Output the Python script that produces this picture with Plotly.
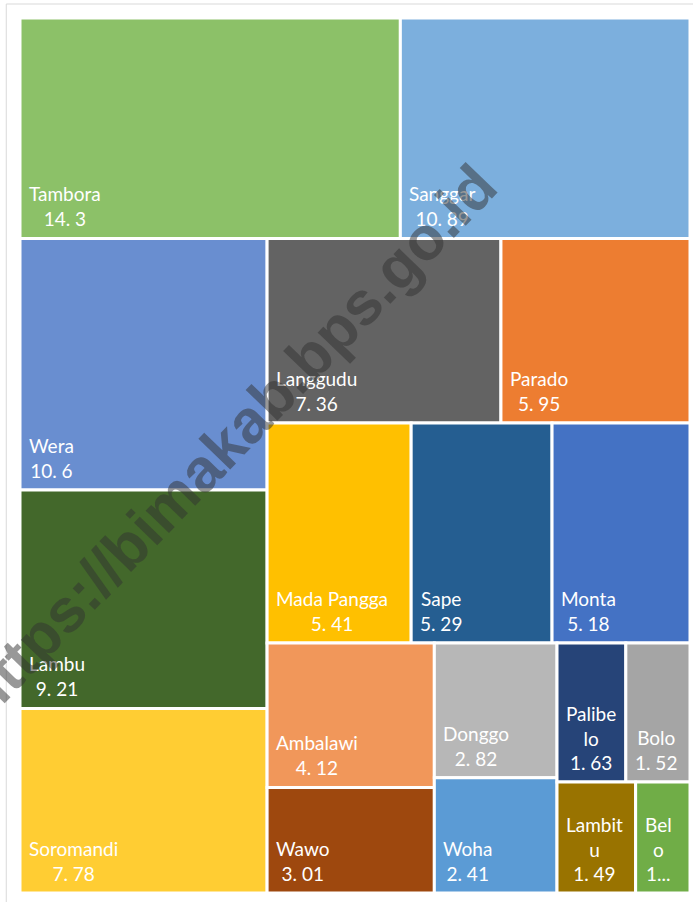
import plotly.graph_objects as go

# Share of area per district (%), largest first
districts = [
    "Tambora", "Sanggar", "Wera", "Lambu", "Soromandi", "Langgudu", "Parado",
    "Mada Pangga", "Sape", "Monta", "Ambalawi", "Wawo", "Donggo", "Woha",
    "Palibelo", "Bolo", "Lambitu", "Belo",
]
shares = [
    14.3, 10.89, 10.6, 9.21, 7.78, 7.36, 5.95,
    5.41, 5.29, 5.18, 4.12, 3.01, 2.82, 2.41,
    1.63, 1.52, 1.49, 1.03,
]
colors = [
    "#8CC168", "#7CAFDD", "#698ED0", "#43682B", "#FFCD33", "#636363", "#ED7D31",
    "#FFC000", "#255E91", "#4472C4", "#F1975A", "#9E480E", "#B7B7B7", "#5B9BD5",
    "#264478", "#A5A5A5", "#997300", "#70AD47",
]
# how many tiles go into each successive strip of the treemap
strip_sizes = [2, 3, 2, 3, 2, 2, 2, 1, 1]

# names that wrap inside narrow tiles
wrapped_names = {"Palibelo": "Palibe<br>lo", "Lambitu": "Lambit<br>u", "Belo": "Bel<br>o"}
truncated_values = {"Belo": "1..."}

BOX_W, BOX_H = 670.0, 875.0


def strip_layout(values, sizes, w, h):
    """Lay tiles out in strips along the shorter side of the free area."""
    x0, y0, x1, y1 = 0.0, 0.0, w, h
    left = sum(values)
    rects = []
    i = 0
    for n in sizes:
        grp = values[i:i + n]
        s = sum(grp)
        frac = s / left
        bw, bh = x1 - x0, y1 - y0
        if bw <= bh:
            th = bh * frac
            cx = x0
            for v in grp:
                cw = bw * v / s
                rects.append((cx, y1 - th, cx + cw, y1))
                cx += cw
            y1 -= th
        else:
            tw = bw * frac
            cy = y1
            for v in grp:
                ch = bh * v / s
                rects.append((x0, cy - ch, x0 + tw, cy))
                cy -= ch
            x0 += tw
        left -= s
        i += n
    # snap float noise so edge tiles sit exactly on the axis bounds
    return [tuple(min(max(round(c, 6), 0.0), lim) for c, lim in
                  zip(r, (w, h, w, h))) for r in rects]


rects = strip_layout(shares, strip_sizes, BOX_W, BOX_H)

fig = go.Figure(
    go.Bar(
        x=[(r[0] + r[2]) / 2 for r in rects],
        width=[r[2] - r[0] for r in rects],
        base=[r[1] for r in rects],
        y=[r[3] - r[1] for r in rects],
        marker=dict(color=colors, line=dict(color="white", width=3)),
        hovertext=[f"{d}: {v}" for d, v in zip(districts, shares)],
        hoverinfo="text",
        showlegend=False,
    )
)

label_font = dict(family="Lato, 'Open Sans', sans-serif", size=19, color="white")
for name, val, r in zip(districts, shares, rects):
    shown_name = wrapped_names.get(name, name)
    shown_val = truncated_values.get(name, f"{val:g}".replace(".", ". "))
    fig.add_annotation(
        x=r[0], y=r[1], xref="x", yref="y",
        xanchor="left", yanchor="bottom", align="center",
        xshift=7, yshift=6,
        text=f"{shown_name}<br>{shown_val}",
        showarrow=False, font=label_font,
    )

# site watermark across the chart
fig.add_annotation(
    x=0.311, y=0.517, xref="paper", yref="paper",
    xanchor="center", yanchor="middle",
    text="https://bimakab.bps.go.id",
    showarrow=False, textangle=-46,
    font=dict(family="Liberation Sans, Arial, sans-serif", size=61,
              color="rgba(50,50,50,0.5)", weight="bold"),
)

# light chart frame
fig.add_shape(
    type="rect", xref="paper", yref="paper",
    x0=-0.0205, x1=1.05, y0=-0.05, y1=1.016,
    line=dict(color="#D9D9D9", width=1), fillcolor="rgba(0,0,0,0)",
    layer="below",
)

fig.update_layout(
    width=693, height=902,
    margin=dict(l=20, r=3, t=18, b=9),
    paper_bgcolor="white", plot_bgcolor="white",
    barmode="overlay",
    xaxis=dict(range=[0, BOX_W], visible=False, fixedrange=True),
    yaxis=dict(range=[0, BOX_H], visible=False, fixedrange=True),
)

fig.write_html("out.html")
